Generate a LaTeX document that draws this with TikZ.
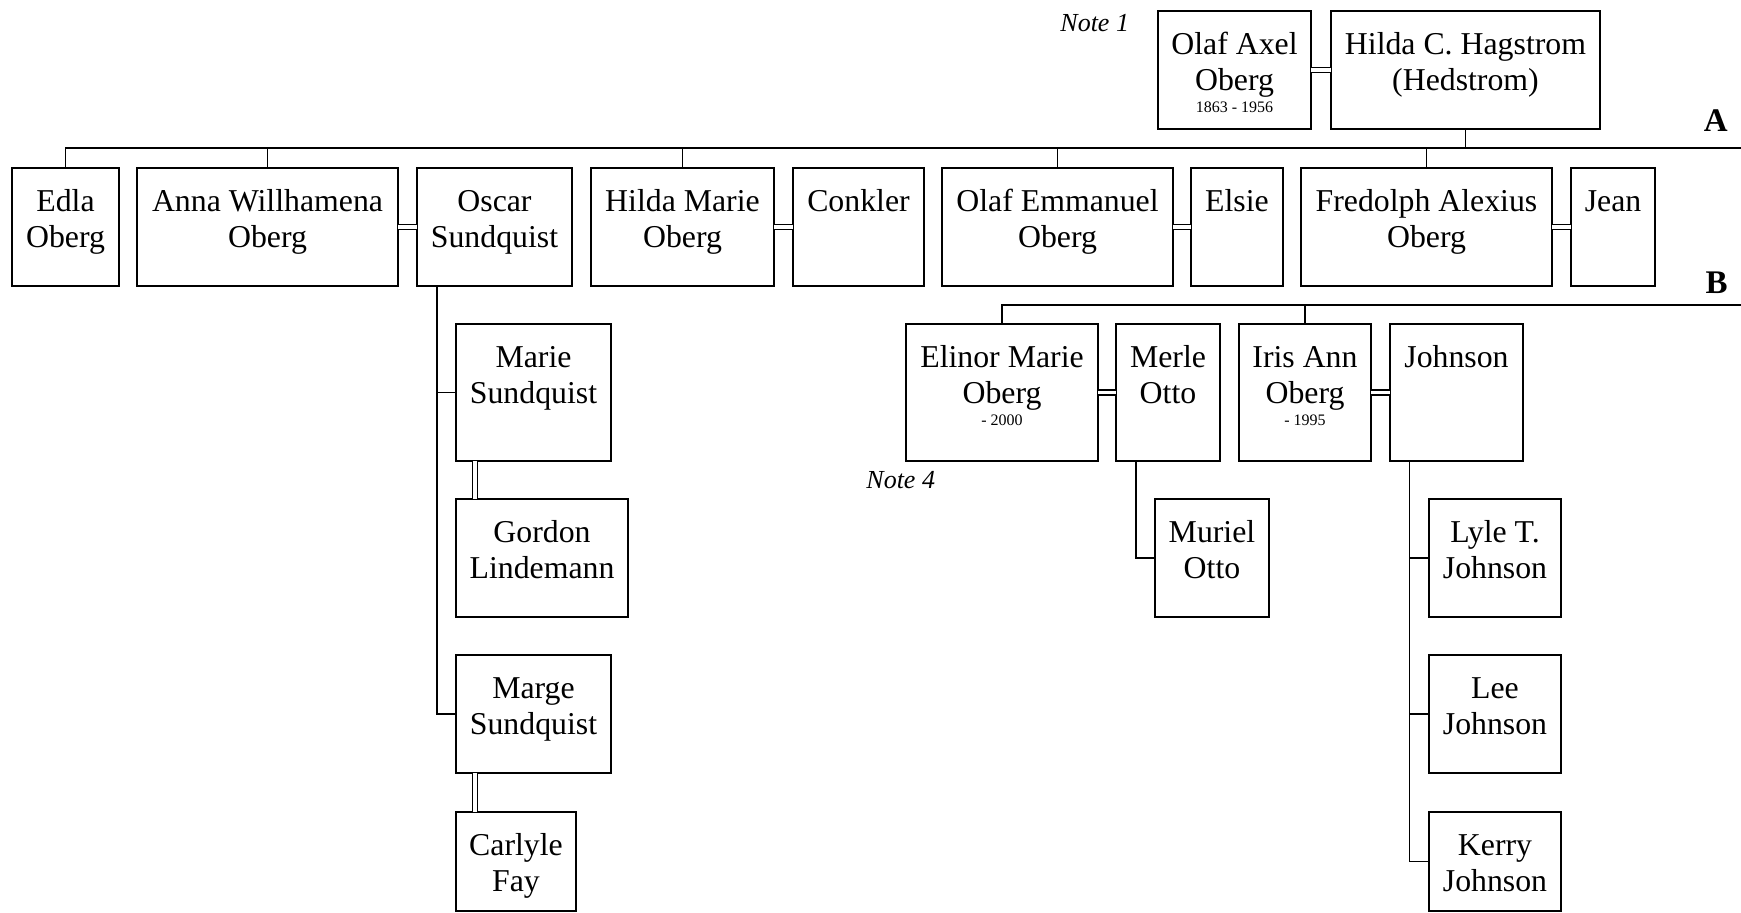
\documentclass[tikz,border=0pt]{standalone}
\usepackage{fontspec}
\setmainfont{Liberation Serif}
\newdimen\px \px=0.5pt
\newcommand{\namefont}{\fontsize{15.9}{18}\selectfont}
\newcommand{\datefont}{\fontsize{8}{11}\selectfont}
% a person's card: width, height (in px units), then the lines of text, set from the top
\newcommand{\card}[3]{\parbox[c][#2\px][t]{#1\px}{\namefont\centering\vspace*{8.9pt}\strut #3\par}}
\newcommand{\dates}[1]{{\datefont #1\par}}
\tikzset{
  person/.style={draw, line width=1pt, inner sep=0pt, outer sep=0pt, anchor=north west},
  descent/.style={line width=0.75pt},
  marriage/.style={double, line width=0.6pt, double distance=1.9pt},
  note/.style={font=\fontsize{13}{15}\selectfont\itshape, inner sep=0pt, anchor=base west},
  gen/.style={font=\fontsize{16.5}{18}\selectfont\bfseries, inner sep=0pt, anchor=base east}
}
\begin{document}
\begin{tikzpicture}[x=0.5pt, y=-0.5pt]
\useasboundingbox (0,0) rectangle (1741,912);

% generation A
\node[person] (olaf)   at (1158,11)  {\card{153}{118}{Olaf Axel\\Oberg\par\dates{1863 - 1956}}};
\node[person] (hildac) at (1331,11)  {\card{269}{118}{Hilda C. Hagstrom\\(Hedstrom)}};

% generation B
\node[person] (edla)    at (12,168)   {\card{107}{118}{Edla\\Oberg}};
\node[person] (anna)    at (137,168)  {\card{261}{118}{Anna Willhamena\\Oberg}};
\node[person] (oscar)   at (417,168)  {\card{155}{118}{Oscar\\Sundquist}};
\node[person] (hildam)  at (591,168)  {\card{183}{118}{Hilda Marie\\Oberg}};
\node[person] (conkler) at (793,168)  {\card{131}{118}{Conkler}};
\node[person] (olafe)   at (942,168)  {\card{231}{118}{Olaf Emmanuel\\Oberg}};
\node[person] (elsie)   at (1191,168) {\card{92}{118}{Elsie}};
\node[person] (fred)    at (1301,168) {\card{251}{118}{Fredolph Alexius\\Oberg}};
\node[person] (jean)    at (1571,168) {\card{84}{118}{Jean}};

% generation C
\node[person] (marie)   at (456,324)  {\card{155}{137}{Marie\\Sundquist}};
\node[person] (elinor)  at (906,324)  {\card{192}{137}{Elinor Marie\\Oberg\par\dates{- 2000}}};
\node[person] (merle)   at (1116,324) {\card{104}{137}{Merle\\Otto}};
\node[person] (iris)    at (1239,324) {\card{132}{137}{Iris Ann\\Oberg\par\dates{- 1995}}};
\node[person] (johnson) at (1390,324) {\card{133}{137}{Johnson}};

% further cards
\node[person] (gordon)  at (456,499)  {\card{172}{118}{Gordon\\Lindemann}};
\node[person] (muriel)  at (1155,499) {\card{114}{118}{Muriel\\Otto}};
\node[person] (lyle)    at (1429,499) {\card{132}{118}{Lyle T.\\Johnson}};
\node[person] (marge)   at (456,655)  {\card{155}{118}{Marge\\Sundquist}};
\node[person] (lee)     at (1429,655) {\card{132}{118}{Lee\\Johnson}};
\node[person] (carlyle) at (456,812)  {\card{120}{99}{Carlyle\\Fay}};
\node[person] (kerry)   at (1429,812) {\card{132}{99}{Kerry\\Johnson}};

% notes and generation letters
\node[note] (note1) at (1060,31)  {Note 1};
\node[note] (note4) at (866,488)  {Note 4};
\node[gen]  (genA)  at (1728,131) {A};
\node[gen]  (genB)  at (1728,293) {B};

% marriages
\draw[marriage] (olaf.east)   -- (hildac.west);
\draw[marriage] (anna.east)   -- (oscar.west);
\draw[marriage] (hildam.east) -- (conkler.west);
\draw[marriage] (olafe.east)  -- (elsie.west);
\draw[marriage] (fred.east)   -- (jean.west);
\draw[marriage] (elinor.east) -- (merle.west);
\draw[marriage] (iris.east)   -- (johnson.west);
\draw[marriage] ([xshift=9.5pt]marie.south west) -- ([xshift=9.5pt]gordon.north west);
\draw[marriage] ([xshift=9.5pt]marge.south west) -- ([xshift=9.5pt]carlyle.north west);

% line of descent A
\coordinate (lineA) at (1741,148);
\draw[descent] (hildac.south) -- (hildac.south |- lineA);
\draw[descent] (edla.north) -- (edla.north |- lineA) -- (lineA);
\draw[descent] (anna.north) -- (anna.north |- lineA);
\draw[descent] (hildam.north) -- (hildam.north |- lineA);
\draw[descent] (olafe.north) -- (olafe.north |- lineA);
\draw[descent] (fred.north) -- (fred.north |- lineA);

% line of descent B
\coordinate (lineB) at (1741,305);
\draw[descent] (elinor.north) -- (elinor.north |- lineB) -- (lineB);
\draw[descent] (iris.north) -- (iris.north |- lineB);

% Sundquist children
\coordinate (osc) at ([xshift=10pt]oscar.south west);
\draw[descent] (osc) |- (marge.west);
\draw[descent] (osc |- marie.west) -- (marie.west);

% Otto child
\draw[descent] ([xshift=10pt]merle.south west) |- (muriel.west);

% Johnson children
\coordinate (joh) at ([xshift=9.75pt]johnson.south west);
\draw[descent] (joh) |- (kerry.west);
\draw[descent] (joh |- lyle.west) -- (lyle.west);
\draw[descent] (joh |- lee.west) -- (lee.west);
\end{tikzpicture}
\end{document}
